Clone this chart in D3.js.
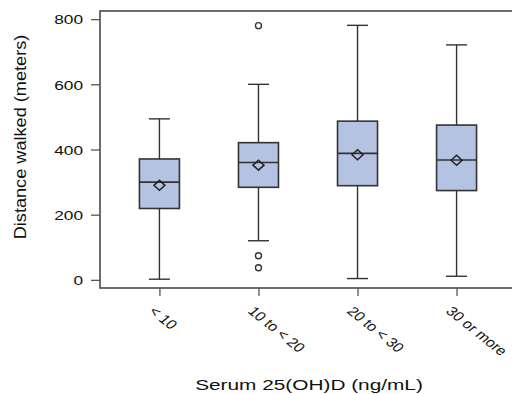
<!DOCTYPE html>
<html>
<head>
<meta charset="utf-8">
<script src="https://cdn.jsdelivr.net/npm/d3@7"></script>
<style>
  body { margin: 0; background: #fff; }
  text { font-family: "Liberation Sans", Arial, sans-serif; fill: #111; }
</style>
</head>
<body>
<div id="chart"></div>
<script>
// values
const categories = ['< 10', '10 to < 20', '20 to < 30', '30 or more'];
const whiskerLow = [2, 120, 4, 11];
const q1 = [219, 284, 289, 274];
const median = [300, 360, 388, 368];
const q3 = [371, 421, 487, 475];
const whiskerHigh = [494, 600, 781, 721];
const means = [290, 352, 384, 367];
const outliers = [[], [780, 74, 37], [], []];
const yTicks = [0, 200, 400, 600, 800];

const stretch = 1.33; // reference text is drawn wide

const W = 512, H = 394;
const frame = { left: 100, right: 516, top: 11, bottom: 288 };

const svg = d3.select('#chart').append('svg')
  .attr('width', W)
  .attr('height', H);

const x = d3.scalePoint().domain(categories).range([frame.left, frame.right]).padding(0.6);
const y = d3.scaleLinear().domain([-25, 825]).range([frame.bottom, frame.top]);

const boxW = 40, capW = 21;
const lineCol = '#333';

const rows = categories.map((c, i) => ({
  cat: c, lo: whiskerLow[i], q1: q1[i], med: median[i], q3: q3[i],
  hi: whiskerHigh[i], mean: means[i], out: outliers[i]
}));

const g = svg.append('g');
const box = g.selectAll('g.box').data(rows).enter().append('g').attr('class', 'box');

// whiskers
box.append('line')
  .attr('x1', d => x(d.cat)).attr('x2', d => x(d.cat))
  .attr('y1', d => y(d.q3)).attr('y2', d => y(d.hi))
  .attr('stroke', lineCol).attr('stroke-width', 1.4);
box.append('line')
  .attr('x1', d => x(d.cat)).attr('x2', d => x(d.cat))
  .attr('y1', d => y(d.q1)).attr('y2', d => y(d.lo))
  .attr('stroke', lineCol).attr('stroke-width', 1.4);
box.append('line')
  .attr('x1', d => x(d.cat) - capW / 2).attr('x2', d => x(d.cat) + capW / 2)
  .attr('y1', d => y(d.hi)).attr('y2', d => y(d.hi))
  .attr('stroke', lineCol).attr('stroke-width', 1.4);
box.append('line')
  .attr('x1', d => x(d.cat) - capW / 2).attr('x2', d => x(d.cat) + capW / 2)
  .attr('y1', d => y(d.lo)).attr('y2', d => y(d.lo))
  .attr('stroke', lineCol).attr('stroke-width', 1.4);

// boxes
box.append('rect')
  .attr('x', d => x(d.cat) - boxW / 2)
  .attr('y', d => y(d.q3))
  .attr('width', boxW)
  .attr('height', d => y(d.q1) - y(d.q3))
  .attr('fill', '#b4c3e1')
  .attr('stroke', lineCol).attr('stroke-width', 1.6);

box.append('line')
  .attr('x1', d => x(d.cat) - boxW / 2).attr('x2', d => x(d.cat) + boxW / 2)
  .attr('y1', d => y(d.med)).attr('y2', d => y(d.med))
  .attr('stroke', lineCol).attr('stroke-width', 1.6);

// mean diamond
box.append('path')
  .attr('d', d => {
    const cx = x(d.cat), cy = y(d.mean);
    return `M${cx - 5.5},${cy}L${cx},${cy - 5}L${cx + 5.5},${cy}L${cx},${cy + 5}Z`;
  })
  .attr('fill', 'none')
  .attr('stroke', '#222').attr('stroke-width', 1.5);

// outliers
box.selectAll('circle')
  .data(d => d.out.map(v => ({ cat: d.cat, v })))
  .enter().append('circle')
  .attr('cx', d => x(d.cat))
  .attr('cy', d => y(d.v))
  .attr('r', 3)
  .attr('fill', 'none')
  .attr('stroke', '#333').attr('stroke-width', 1.4);

// frame
svg.append('rect')
  .attr('x', frame.left).attr('y', frame.top)
  .attr('width', frame.right - frame.left)
  .attr('height', frame.bottom - frame.top)
  .attr('fill', 'none')
  .attr('stroke', '#555').attr('stroke-width', 1.7);

// y axis
const yAxis = svg.append('g').attr('transform', `translate(${frame.left},0)`)
  .call(d3.axisLeft(y).tickValues(yTicks).tickSize(9).tickFormat(d3.format('d')));
yAxis.select('.domain').remove();
yAxis.selectAll('.tick line').attr('stroke', '#555').attr('stroke-width', 1.3);
yAxis.selectAll('.tick text')
  .attr('x', null).attr('dy', null)
  .attr('font-size', 13)
  .attr('text-anchor', 'end')
  .attr('transform', `translate(-17,4.7) scale(${stretch},1)`);

// x axis
const xAxis = svg.append('g').attr('transform', `translate(0,${frame.bottom})`)
  .call(d3.axisBottom(x).tickSize(8));
xAxis.select('.domain').remove();
xAxis.selectAll('.tick line').attr('stroke', '#555').attr('stroke-width', 1.3);
xAxis.selectAll('.tick text')
  .attr('y', null).attr('dy', null)
  .attr('font-size', 13)
  .attr('text-anchor', 'start')
  .attr('transform', 'translate(-12,24) scale(1.25,1) rotate(45)');

// axis titles
svg.append('text')
  .attr('transform', `translate(309,390) scale(1.36,1)`)
  .attr('text-anchor', 'middle')
  .attr('font-size', 15.3)
  .text('Serum 25(OH)D (ng/mL)');

svg.append('text')
  .attr('transform', `translate(26,137) rotate(-90) scale(1.1,1)`)
  .attr('text-anchor', 'middle')
  .attr('font-size', 16.5)
  .text('Distance walked (meters)');
</script>
</body>
</html>
